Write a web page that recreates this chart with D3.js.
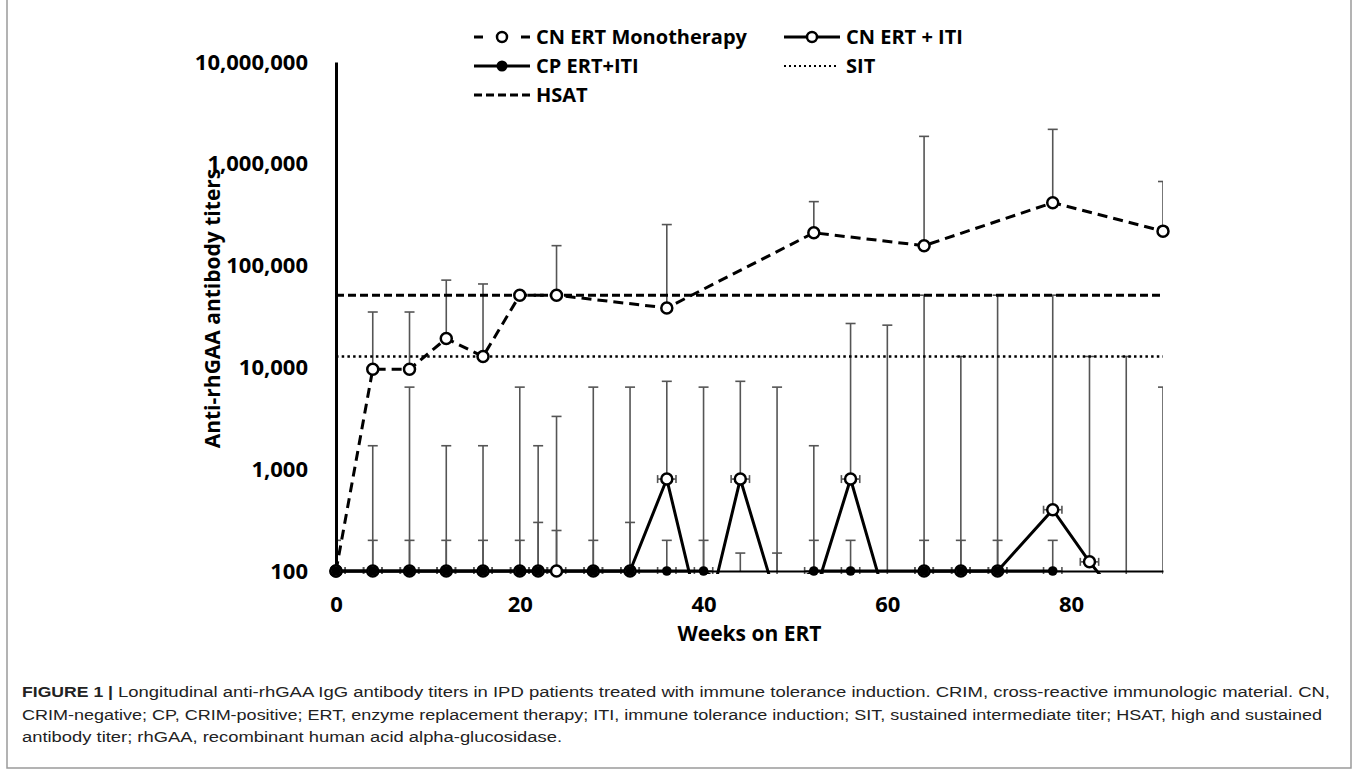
<!DOCTYPE html>
<html>
<head>
<meta charset="utf-8">
<script src="https://cdn.jsdelivr.net/npm/d3@7"></script>
<style>
  body { margin: 0; background: #fff; }
  svg text { font-family: "Open Sans", sans-serif; }
  .caption text { font-family: "Liberation Sans", Arial, sans-serif; }
</style>
</head>
<body>
<svg></svg>
<script>
// values (titers, weeks on ERT)
const monoWeeks = [0, 4, 8, 12, 16, 20, 24, 36, 52, 64, 78, 90];
const monoTiters = [100, 9600, 9600, 19200, 12800, 51200, 51200, 38400, 210000, 157000, 415000, 218000];
const monoErrTop = [null, 35000, 35000, 72000, 66000, null, 157000, 253000, 425000, 1860000, 2180000, 670000];

// CN ERT + ITI, points under 100 sit below the axis and are clipped
const itiWeeks = [0, 4, 8, 12, 16, 20, 22, 24, 28, 32, 36, 40, 44, 48, 52, 56, 60, 64, 68, 72, 78, 82, 86, 90];
const itiTiters = [100, 100, 100, 100, 100, 100, 100, 100, 100, 100, 800, 25, 800, 50, 55, 800, 45, 100, 100, 100, 400, 123, 44, 40];
const itiErrTop = [null, 1700, 6400, 1700, 1700, 6400, 1700, 3300, 6400, 6400, 7300, 6400, 7300, 6400, 1700, 27000, 26000, 51200, 12800, 51200, 51200, 12800, 12800, 6400];

// CP ERT+ITI
const cpWeeks = [0, 4, 8, 12, 16, 20, 22, 28, 32, 36, 40, 44, 48, 52, 56, 64, 68, 72, 78];
const cpTiters = [100, 100, 100, 100, 100, 100, 100, 100, 100, 100, 100, 60, 60, 100, 100, 100, 100, 100, 100];
const cpErrWeeks = [0, 4, 8, 12, 16, 20, 22, 24, 28, 32, 36, 40, 44, 48, 52, 56, 64, 68, 72, 78];
const cpErrTop = [200, 200, 200, 200, 200, 200, 300, 250, 200, 300, 200, 200, 150, 150, 200, 200, 200, 200, 200, 200];

const hsat = 51200;
const sit = 12800;
const weekErr = 1; // horizontal error bars, +/- weeks

const xTicks = [0, 20, 40, 60, 80];
const yTicks = [100, 1000, 10000, 100000, 1000000, 10000000];

const size = {w: 1358, h: 773};
const plot = {l: 336, r: 1163, t: 62, b: 571};

const svg = d3.select('svg')
    .attr('width', size.w)
    .attr('height', size.h);

// frame around the figure
svg.append('rect')
    .attr('x', 7).attr('y', -4)
    .attr('width', 1344).attr('height', 772)
    .attr('fill', 'none')
    .attr('stroke', '#9a9a9a')
    .attr('stroke-width', 1.5);

let x = d3.scaleLinear().domain([0, 90]).range([plot.l, plot.r]);
let y = d3.scaleLog().domain([100, 1e7]).range([plot.b, plot.t]);

svg.append('clipPath').attr('id', 'plotClip')
    .append('rect')
    .attr('x', plot.l).attr('y', plot.t - 10)
    .attr('width', plot.r - plot.l).attr('height', plot.b - plot.t + 13);

// zip helpers
const zip = (ws, vs, es) => ws.map((w, i) => ({w: w, v: vs[i], e: es ? es[i] : null}));
const mono = zip(monoWeeks, monoTiters, monoErrTop);
const iti = zip(itiWeeks, itiTiters, itiErrTop);
const cp = zip(cpWeeks, cpTiters);
const cpErr = cpErrWeeks.map((w, i) => ({w: w, v: 100, e: cpErrTop[i]}));

// --------- ERROR BARS ----------
const errG = svg.append('g').attr('clip-path', 'url(#plotClip)')
    .attr('stroke', '#555').attr('stroke-width', 1.6).attr('fill', 'none');

function drawErr(data) {
    let d2 = data.filter(d => d.e != null);
    errG.selectAll(null).data(d2).join('line')
        .attr('x1', d => x(d.w)).attr('x2', d => x(d.w))
        .attr('y1', d => y(d.v)).attr('y2', d => y(d.e));
    errG.selectAll(null).data(d2).join('line')
        .attr('x1', d => x(d.w) - 5).attr('x2', d => x(d.w) + 5)
        .attr('y1', d => y(d.e)).attr('y2', d => y(d.e));
}
drawErr(cpErr);
drawErr(iti);
drawErr(mono);

// horizontal error bars on the ITI series
function drawWeekErr(data) {
    let d2 = data.filter(d => d.v >= 100);
    errG.selectAll(null).data(d2).join('line')
        .attr('x1', d => x(d.w - weekErr)).attr('x2', d => x(d.w + weekErr))
        .attr('y1', d => y(d.v)).attr('y2', d => y(d.v));
    [-weekErr, weekErr].forEach(off => {
        errG.selectAll(null).data(d2).join('line')
            .attr('x1', d => x(d.w + off)).attr('x2', d => x(d.w + off))
            .attr('y1', d => y(d.v) - 4).attr('y2', d => y(d.v) + 4);
    });
}
drawWeekErr(iti);
drawWeekErr(cp);

// --------- AXES ----------
let yAxis = d3.axisLeft(y)
    .tickValues(yTicks)
    .tickFormat(d3.format(','))
    .tickSize(0)
    .tickPadding(28);
let yG = svg.append('g').attr('transform', `translate(${plot.l},0)`).call(yAxis);

let xAxis = d3.axisBottom(x)
    .tickValues(xTicks)
    .tickSize(0)
    .tickPadding(25);
let xG = svg.append('g').attr('transform', `translate(0,${plot.b})`).call(xAxis);

yG.select('.domain').attr('stroke', '#000').attr('stroke-width', 3);
xG.select('.domain').attr('stroke', '#000').attr('stroke-width', 2);
[yG, xG].forEach(g => g.selectAll('text')
    .attr('fill', '#000')
    .style('font-size', '22px')
    .style('font-weight', 700));

svg.append('text')
    .attr('transform', `translate(213,${(plot.t + plot.b) / 2 - 8}) rotate(-90)`)
    .attr('text-anchor', 'middle')
    .attr('dy', '0.35em')
    .style('font-size', '21px').style('font-weight', 700)
    .text('Anti-rhGAA antibody titers');

svg.append('text')
    .attr('x', (plot.l + plot.r) / 2).attr('y', 641)
    .attr('text-anchor', 'middle')
    .style('font-size', '21px').style('font-weight', 700)
    .text('Weeks on ERT');

// --------- REFERENCE LINES ----------
const refG = svg.append('g').attr('clip-path', 'url(#plotClip)');
refG.append('line')
    .attr('x1', plot.l).attr('x2', plot.r)
    .attr('y1', y(hsat)).attr('y2', y(hsat))
    .attr('stroke', '#000').attr('stroke-width', 3)
    .attr('stroke-dasharray', '8,4');
refG.append('line')
    .attr('x1', plot.l).attr('x2', plot.r)
    .attr('y1', y(sit)).attr('y2', y(sit))
    .attr('stroke', '#000').attr('stroke-width', 2.5)
    .attr('stroke-dasharray', '2.5,3.2');

// --------- SERIES LINES ----------
const lineG = svg.append('g').attr('clip-path', 'url(#plotClip)')
    .attr('fill', 'none').attr('stroke', '#000');
let line = d3.line().x(d => x(d.w)).y(d => y(d.v));

lineG.append('path').attr('d', line(cp)).attr('stroke-width', 3);
lineG.append('path').attr('d', line(iti)).attr('stroke-width', 3);
lineG.append('path').attr('d', line(mono)).attr('stroke-width', 3)
    .attr('stroke-dasharray', '10,6');

// --------- MARKERS ----------
const markG = svg.append('g');
markG.selectAll('circle.mono').data(mono.filter(d => d.v >= 100)).join('circle')
    .attr('class', 'mono')
    .attr('cx', d => x(d.w)).attr('cy', d => y(d.v)).attr('r', 5.5)
    .attr('fill', '#fff').attr('stroke', '#000').attr('stroke-width', 2.5);
markG.selectAll('circle.iti').data(iti.filter(d => d.v >= 100)).join('circle')
    .attr('class', 'iti')
    .attr('cx', d => x(d.w)).attr('cy', d => y(d.v)).attr('r', 5.5)
    .attr('fill', '#fff').attr('stroke', '#000').attr('stroke-width', 2.5);
markG.selectAll('circle.cp').data(cp.filter(d => d.v >= 100)).join('circle')
    .attr('class', 'cp')
    .attr('cx', d => x(d.w)).attr('cy', d => y(d.v)).attr('r', 4.8)
    .attr('fill', '#000');

// --------- LEGEND ----------
const legG = svg.append('g').attr('stroke', '#000');
const rowY = [37, 66, 95];
const col = [{s: 474, t: 536}, {s: 784, t: 846}];

function legText(c, r, label) {
    svg.append('text')
        .attr('x', col[c].t).attr('y', rowY[r]).attr('dy', '0.35em')
        .style('font-size', '20px').style('font-weight', 700)
        .text(label);
}
// mono: - o -
legG.append('line').attr('x1', col[0].s).attr('x2', col[0].s + 9)
    .attr('y1', rowY[0]).attr('y2', rowY[0]).attr('stroke-width', 3);
legG.append('line').attr('x1', col[0].s + 47).attr('x2', col[0].s + 56)
    .attr('y1', rowY[0]).attr('y2', rowY[0]).attr('stroke-width', 3);
legG.append('circle').attr('cx', col[0].s + 28).attr('cy', rowY[0]).attr('r', 5)
    .attr('fill', '#fff').attr('stroke-width', 2.5);
legText(0, 0, 'CN ERT Monotherapy');
// iti: -o-
legG.append('line').attr('x1', col[1].s).attr('x2', col[1].s + 56)
    .attr('y1', rowY[0]).attr('y2', rowY[0]).attr('stroke-width', 3);
legG.append('circle').attr('cx', col[1].s + 28).attr('cy', rowY[0]).attr('r', 5)
    .attr('fill', '#fff').attr('stroke-width', 2.5);
legText(1, 0, 'CN ERT + ITI');
// cp: -●-
legG.append('line').attr('x1', col[0].s).attr('x2', col[0].s + 56)
    .attr('y1', rowY[1]).attr('y2', rowY[1]).attr('stroke-width', 3);
legG.append('circle').attr('cx', col[0].s + 28).attr('cy', rowY[1]).attr('r', 5.5)
    .attr('fill', '#000').attr('stroke', 'none');
legText(0, 1, 'CP ERT+ITI');
// sit
legG.append('line').attr('x1', col[1].s).attr('x2', col[1].s + 54)
    .attr('y1', rowY[1]).attr('y2', rowY[1]).attr('stroke-width', 2)
    .attr('stroke-dasharray', '2,3');
legText(1, 1, 'SIT');
// hsat
legG.append('line').attr('x1', col[0].s).attr('x2', col[0].s + 56)
    .attr('y1', rowY[2]).attr('y2', rowY[2]).attr('stroke-width', 3)
    .attr('stroke-dasharray', '8,4');
legText(0, 2, 'HSAT');

// --------- CAPTION ----------
// each line is fitted to the width it has in the source figure
const capLines = [
    {x: 118, w: 1212, t: 'Longitudinal anti-rhGAA IgG antibody titers in IPD patients treated with immune tolerance induction. CRIM, cross-reactive immunologic material. CN,'},
    {x: 22, w: 1300, t: 'CRIM-negative; CP, CRIM-positive; ERT, enzyme replacement therapy; ITI, immune tolerance induction; SIT, sustained intermediate titer; HSAT, high and sustained'},
    {x: 22, w: 540, t: 'antibody titer; rhGAA, recombinant human acid alpha-glucosidase.'}
];
const capG = svg.append('g').classed('caption', true);
capG.append('text')
    .attr('x', 22).attr('y', 697)
    .attr('textLength', 91).attr('lengthAdjust', 'spacingAndGlyphs')
    .attr('fill', '#222')
    .style('font-size', '15.5px').style('font-weight', 700)
    .text('FIGURE 1 |');
capLines.forEach((c, i) => {
    capG.append('text')
        .attr('x', c.x).attr('y', 697 + i * 22.5)
        .attr('textLength', c.w).attr('lengthAdjust', 'spacingAndGlyphs')
        .attr('fill', '#222')
        .style('font-size', '15.5px')
        .text(c.t);
});
</script>
</body>
</html>
